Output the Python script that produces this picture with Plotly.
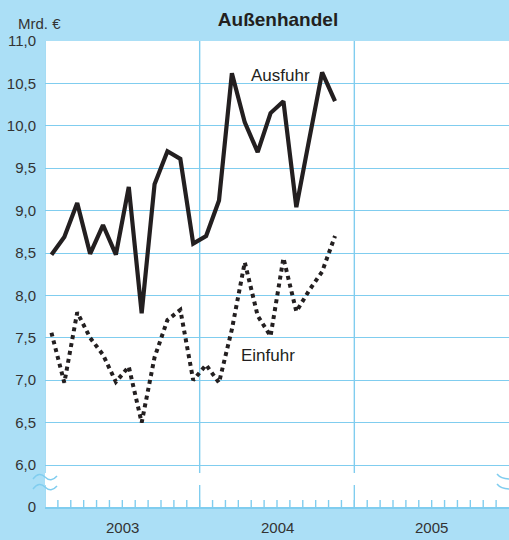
import plotly.graph_objects as go

# ---- data ----
month_index = list(range(23))  # Jan 2003 .. Nov 2004
ausfuhr = [8.48, 8.69, 9.09, 8.49, 8.83, 8.48, 9.28, 7.79, 9.31, 9.70, 9.61, 8.61,
           8.70, 9.12, 10.62, 10.04, 9.69, 10.15, 10.29, 9.04, 9.84, 10.63, 10.29]
einfuhr = [7.56, 6.97, 7.80, 7.50, 7.30, 6.98, 7.16, 6.50, 7.27, 7.71, 7.83, 7.00,
           7.18, 6.97, 7.60, 8.39, 7.76, 7.52, 8.44, 7.81, 8.06, 8.28, 8.70]
years = ["2003", "2004", "2005"]
y_ticks = [6.0, 6.5, 7.0, 7.5, 8.0, 8.5, 9.0, 9.5, 10.0, 10.5, 11.0]
y_tick_text = ["6,0", "6,5", "7,0", "7,5", "8,0", "8,5", "9,0", "9,5", "10,0", "10,5", "11,0"]
break_label = "0"

# ---- style ----
BG = "#abdff6"
GRID = "#80cdef"
INK = "#231f20"
TXT = "#333333"
FONT = "Liberation Sans, Arial, sans-serif"

W, H = 509, 540
L, R, T, B = 45, 0, 41, 33
PW, PH = W - L - R, H - T - B
Y_ZERO = 6.0 - 42 / 84.8  # fake position of the broken-axis "0"

x_vals = [m + 0.5 for m in month_index]

fig = go.Figure()
fig.add_trace(go.Scatter(x=x_vals, y=ausfuhr, mode="lines",
                         line=dict(color=INK, width=4.2), name="Ausfuhr",
                         showlegend=False, hoverinfo="skip"))
fig.add_trace(go.Scatter(x=x_vals, y=einfuhr, mode="lines",
                         line=dict(color=INK, width=4, dash="4px,4px"), name="Einfuhr",
                         showlegend=False, hoverinfo="skip"))


def px(x):
    return (x - L) / PW


def py(y):
    return (H - B - y) / PH


shapes = []
# vertical year lines (broken in the axis-break zone)
for k in range(0, 3):
    xm = 12 * k
    shapes.append(dict(type="line", xref="x", yref="paper", x0=xm, x1=xm,
                       y0=py(473), y1=1, line=dict(color=GRID, width=1.4), layer="below"))
    shapes.append(dict(type="line", xref="x", yref="paper", x0=xm, x1=xm,
                       y0=0, y1=py(485), line=dict(color=GRID, width=1.4), layer="below"))
# month ticks
for m in range(1, 36):
    shapes.append(dict(type="line", xref="x", yref="paper", x0=m, x1=m,
                       y0=0, y1=py(500), line=dict(color=GRID, width=1.4), layer="below"))


def wave(points):
    (x0, y0), rest = points[0], points[1:]
    s = f"M {px(x0):.5f},{py(y0):.5f}"
    for cmd, pts in rest:
        s += " " + cmd + " " + " ".join(f"{px(a):.5f},{py(b):.5f}" for a, b in pts)
    return s


for dy in (0, 10):
    shapes.append(dict(type="path", xref="paper", yref="paper",
                       path=wave([(33, 479 + dy), ("Q", [(39, 471 + dy), (45, 477 + dy)]),
                                  ("T", [(57, 476 + dy)])]),
                       line=dict(color=GRID, width=1.5)))
    shapes.append(dict(type="path", xref="paper", yref="paper",
                       path=wave([(497, 474 + dy), ("Q", [(501, 479 + dy), (510, 479 + dy)])]),
                       line=dict(color=GRID, width=1.5)))

# white box behind the "Ausfuhr" label (interrupts the 10,5 grid line)
shapes.append(dict(type="rect", xref="paper", yref="paper",
                   x0=px(231), x1=px(314), y0=py(88), y1=py(66),
                   fillcolor="white", line=dict(width=0), layer="between"))

annotations = [
    dict(text="Ausfuhr", xref="paper", yref="paper", x=px(280), y=py(76),
         xanchor="center", yanchor="middle",
         showarrow=False, font=dict(family=FONT, size=17, color=INK)),
    dict(text="Einfuhr", xref="paper", yref="paper", x=px(268), y=py(355),
         xanchor="center", yanchor="middle",
         showarrow=False, font=dict(family=FONT, size=17, color=INK)),
    dict(text="Mrd. €", xref="paper", yref="paper", x=px(16), y=py(23),
         xanchor="left", yanchor="middle", showarrow=False,
         font=dict(family=FONT, size=15, color=TXT)),
]
for k, yr in enumerate(years):
    annotations.append(dict(text=yr, xref="x", yref="paper", x=12 * k + 6, y=py(527),
                            showarrow=False, xanchor="center", yanchor="middle",
                            font=dict(family=FONT, size=15, color=TXT)))

fig.update_layout(
    width=W, height=H,
    margin=dict(l=L, r=R, t=T, b=B, pad=0, autoexpand=False),
    paper_bgcolor=BG, plot_bgcolor="white",
    title=dict(text="<b>Außenhandel</b>", x=px(278), xref="paper", xanchor="center",
               y=1 - 19 / H, yref="container", yanchor="middle",
               font=dict(family=FONT, size=19, color=INK)),
    shapes=shapes, annotations=annotations, showlegend=False,
    xaxis=dict(range=[0, 36], showgrid=False, zeroline=False, showticklabels=False,
               ticks="", showline=True, linecolor=GRID, linewidth=2, fixedrange=True),
    yaxis=dict(range=[Y_ZERO, 11.0], tickvals=[Y_ZERO] + y_ticks,
               ticktext=[break_label] + y_tick_text,
               showgrid=True, gridcolor=GRID, gridwidth=1.4, zeroline=False,
               ticks="outside", ticklen=5, tickcolor=BG, showline=False,
               tickfont=dict(family=FONT, size=15, color=TXT), fixedrange=True),
)

fig.write_html("out.html", config={"displayModeBar": False},
               post_script="document.body.style.margin='0';document.body.style.overflow='hidden';")
